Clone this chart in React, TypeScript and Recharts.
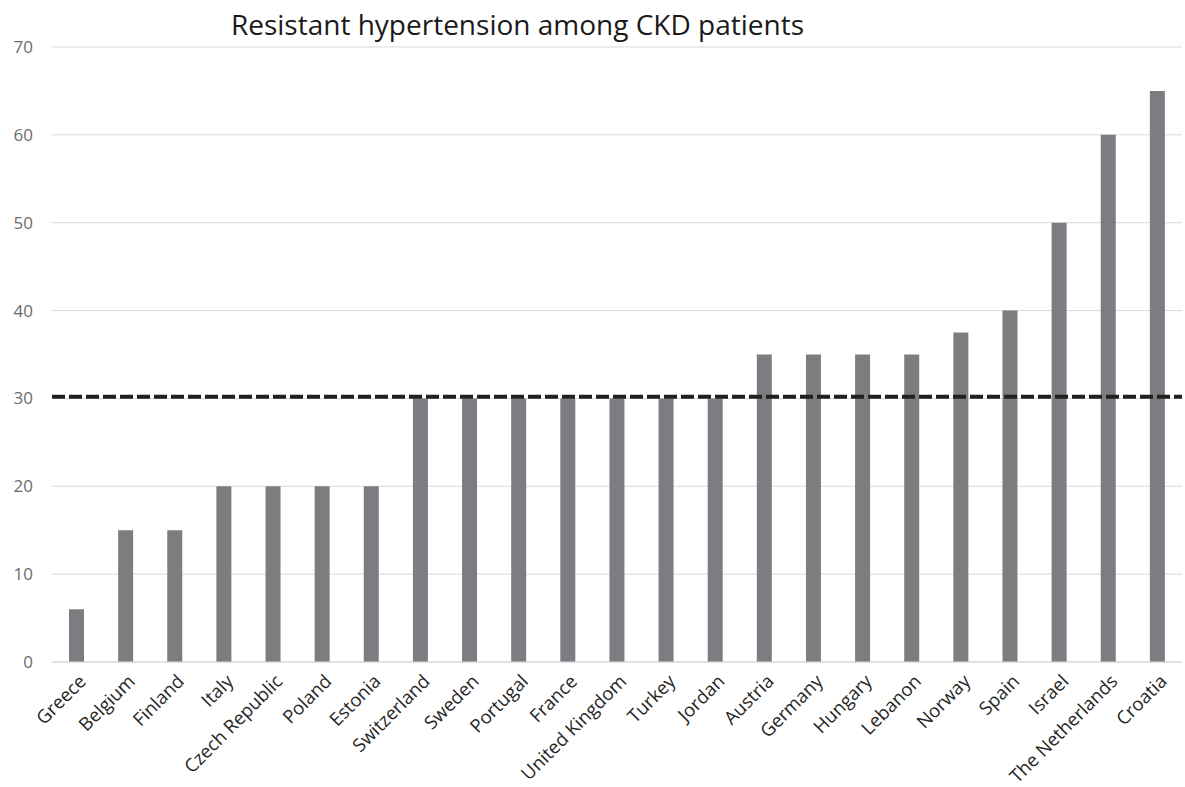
import React from "react";
import {
  BarChart,
  Bar,
  XAxis,
  YAxis,
  CartesianGrid,
  ReferenceLine,
} from "recharts";

const countries = [
  "Greece",
  "Belgium",
  "Finland",
  "Italy",
  "Czech Republic",
  "Poland",
  "Estonia",
  "Switzerland",
  "Sweden",
  "Portugal",
  "France",
  "United Kingdom",
  "Turkey",
  "Jordan",
  "Austria",
  "Germany",
  "Hungary",
  "Lebanon",
  "Norway",
  "Spain",
  "Israel",
  "The Netherlands",
  "Croatia",
];

const prevalence = [
  6, 15, 15, 20, 20, 20, 20, 30, 30, 30, 30, 30, 30, 30, 35, 35, 35, 35, 37.5,
  40, 50, 60, 65,
];

const yTicks = [0, 10, 20, 30, 40, 50, 60, 70];
const averageLine = 30.2;

const FONT = "'Open Sans', sans-serif";

const chartData = countries.map((name, i) => ({
  name,
  value: prevalence[i],
}));

// rotated category labels, anchored at their end like the original
const CountryTick = (props: any) => {
  const { x, y, payload } = props;
  return (
    <g transform={`translate(${x + 7},${y + 9})`}>
      <text
        transform="rotate(-45)"
        textAnchor="end"
        fontSize={18.5}
        fontFamily={FONT}
        fill="#262626"
        dy={5}
      >
        {payload.value}
      </text>
    </g>
  );
};

const App: React.FC = () => {
  return (
    <div
      style={{
        position: "absolute",
        left: 0,
        top: 0,
        width: 1185,
        height: 787,
        background: "#fff",
      }}
    >
      <div
        style={{
          position: "absolute",
          left: 0,
          top: 5,
          width: 1035,
          textAlign: "center",
          fontFamily: FONT,
          fontSize: 28,
          color: "#1a1a1a",
        }}
      >
        Resistant hypertension among CKD patients
      </div>
      <BarChart
        width={1185}
        height={787}
        data={chartData}
        margin={{ top: 47, right: 3, bottom: 15, left: 0 }}
        barSize={15}
      >
        <CartesianGrid vertical={false} stroke="#d9d9d9" />
        <XAxis
          dataKey="name"
          interval={0}
          height={110}
          tickLine={false}
          axisLine={{ stroke: "#d9d9d9" }}
          tick={<CountryTick />}
        />
        <YAxis
          width={52}
          domain={[0, 70]}
          ticks={yTicks}
          axisLine={false}
          tickLine={false}
          tick={{ fontSize: 17, fill: "#6b6b6b", fontFamily: FONT }}
          tickMargin={13}
        />
        <Bar dataKey="value" fill="#7c7d81" isAnimationActive={false} />
        <ReferenceLine
          y={averageLine}
          stroke="#231f20"
          strokeWidth={4}
          strokeDasharray="13 4"
        />
      </BarChart>
    </div>
  );
};

export default App;
